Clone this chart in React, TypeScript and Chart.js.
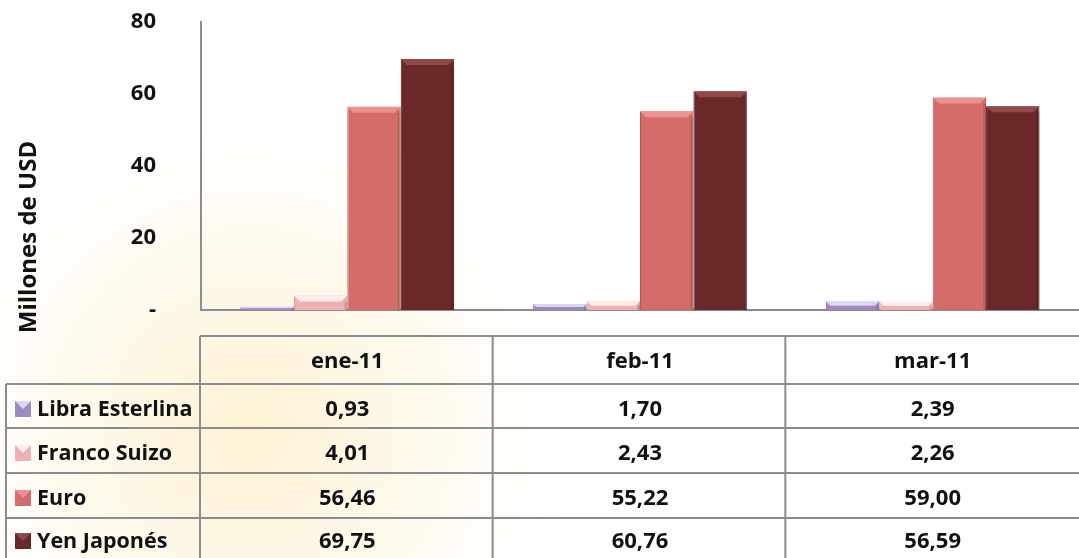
import React, { useEffect, useRef } from "react";
import { Chart, registerables } from "chart.js";

Chart.register(...registerables);

const categories = ["ene-11", "feb-11", "mar-11"];
const seriesNames = ["Libra Esterlina", "Franco Suizo", "Euro", "Yen Japonés"];
const libra = [0.93, 1.7, 2.39];
const franco = [4.01, 2.43, 2.26];
const euro = [56.46, 55.22, 59.0];
const yen = [69.75, 60.76, 56.59];
const seriesValues = [libra, franco, euro, yen];
const yTicks = [0, 20, 40, 60, 80];
const yTitle = "Millones de USD";

const fills = ["#9d8bbd", "#eeb0b0", "#d46c6a", "#6b2828"];
const edges = ["#7a6799", "#d89090", "#b85250", "#4a1818"];
const highlights = ["rgba(230,222,245,0.9)", "rgba(255,240,240,0.95)", "rgba(240,150,148,0.9)", "rgba(150,75,75,0.9)"];

const FONT = "'Open Sans', 'DejaVu Sans', sans-serif";

const fmt = (v: number) => v.toFixed(2).replace(".", ",");

const bgPlugin = {
  id: "bgPlugin",
  beforeDraw(chart: any) {
    const { ctx, width, height } = chart;
    ctx.save();
    ctx.fillStyle = "#ffffff";
    ctx.fillRect(0, 0, width, height);
    const g = ctx.createRadialGradient(250, 430, 10, 250, 430, 330);
    g.addColorStop(0, "rgba(252,226,160,0.45)");
    g.addColorStop(0.6, "rgba(252,236,190,0.25)");
    g.addColorStop(1, "rgba(255,255,255,0)");
    ctx.fillStyle = g;
    ctx.fillRect(0, 120, 700, height - 120);
    ctx.restore();
  },
};

const bevelPlugin = {
  id: "bevelPlugin",
  afterDatasetsDraw(chart: any) {
    const ctx = chart.ctx;
    chart.data.datasets.forEach((_: any, di: number) => {
      const meta = chart.getDatasetMeta(di);
      meta.data.forEach((bar: any) => {
        const left = bar.x - bar.width / 2;
        const right = bar.x + bar.width / 2;
        const top = bar.y;
        const bottom = bar.base;
        const h = bottom - top;
        const b = Math.min(6, h / 2);
        ctx.save();
        ctx.fillStyle = highlights[di];
        ctx.beginPath();
        ctx.moveTo(left, top);
        ctx.lineTo(right, top);
        ctx.lineTo(right - b, top + b);
        ctx.lineTo(left + b, top + b);
        ctx.closePath();
        ctx.fill();
        ctx.fillStyle = "rgba(0,0,0,0.12)";
        ctx.fillRect(right - 3, top + b, 3, h - b);
        ctx.restore();
      });
    });
  },
};

const tablePlugin = {
  id: "tablePlugin",
  afterDraw(chart: any) {
    const { ctx, width } = chart;
    const x = chart.scales.x;
    const n = categories.length;
    const tableLeft = 6;
    const colLeft = chart.chartArea.left - 1;
    const step = (chart.chartArea.right - chart.chartArea.left) / n;
    const rowsY = [336, 384, 428, 473, 518, 563];
    ctx.save();
    ctx.strokeStyle = "#8c8c8c";
    ctx.lineWidth = 2;
    ctx.beginPath();
    ctx.moveTo(colLeft, rowsY[0]);
    ctx.lineTo(width, rowsY[0]);
    for (let i = 1; i < rowsY.length - 1; i++) {
      ctx.moveTo(tableLeft, rowsY[i]);
      ctx.lineTo(width, rowsY[i]);
    }
    ctx.moveTo(tableLeft, rowsY[1]);
    ctx.lineTo(tableLeft, chart.height);
    for (let c = 0; c < n; c++) {
      const xx = colLeft + c * step;
      ctx.moveTo(xx, rowsY[0]);
      ctx.lineTo(xx, chart.height);
    }
    ctx.stroke();

    ctx.fillStyle = "#111";
    ctx.font = `bold 22px ${FONT}`;
    ctx.textAlign = "center";
    ctx.textBaseline = "alphabetic";
    categories.forEach((cat, i) => {
      const cx = x.getPixelForValue(i);
      ctx.fillText(cat, cx, 368);
      seriesValues.forEach((vals, s) => {
        const base = rowsY[s + 1] + 32 - (s === 3 ? 2 : 0);
        ctx.fillText(fmt(vals[i]), cx, base);
      });
    });
    ctx.textAlign = "left";
    ctx.font = `bold 21.5px ${FONT}`;
    seriesNames.forEach((name, s) => {
      const base = rowsY[s + 1] + 32 - (s === 3 ? 2 : 0);
      const mx = 15, my = base - 15, ms = 16;
      ctx.fillStyle = "#ffffff";
      ctx.fillRect(mx - 1, my - 1, ms + 2, ms + 2);
      ctx.fillStyle = fills[s];
      ctx.fillRect(mx, my, ms, ms);
      ctx.fillStyle = highlights[s];
      ctx.beginPath();
      ctx.moveTo(mx, my);
      ctx.lineTo(mx + ms, my);
      ctx.lineTo(mx + ms / 2, my + ms / 2);
      ctx.closePath();
      ctx.fill();
      ctx.fillStyle = "#111";
      ctx.fillText(name, 37, base);
    });

    ctx.translate(36, 237);
    ctx.rotate(-Math.PI / 2);
    ctx.textAlign = "center";
    ctx.textBaseline = "alphabetic";
    ctx.font = `bold 24px ${FONT}`;
    ctx.fillText(yTitle, 0, 0);
    ctx.restore();
  },
};

export default function App() {
  const ref = useRef<HTMLCanvasElement>(null);
  useEffect(() => {
    document.body.style.margin = "0";
    const canvas = ref.current!;
    const chart = new Chart(canvas, {
      type: "bar",
      data: {
        labels: categories,
        datasets: seriesNames.map((name, i) => ({
          label: name,
          data: seriesValues[i],
          backgroundColor: fills[i],
          borderColor: edges[i],
          borderWidth: 1,
          barPercentage: 1.0,
          categoryPercentage: 0.73,
        })),
      },
      options: {
        animation: false,
        responsive: false,
        maintainAspectRatio: false,
        layout: { padding: { top: 22, bottom: 248, right: 0, left: 0 } },
        plugins: {
          legend: { display: false },
          tooltip: { enabled: false },
          title: { display: false },
        },
        scales: {
          x: {
            ticks: { display: false },
            grid: { display: false, drawTicks: false },
            border: { display: true, color: "#8c8c8c", width: 2 },
          },
          y: {
            min: 0,
            max: 80,
            afterFit: (scale: any) => {
              scale.width = 201;
              scale.paddingTop = 0;
            },
            afterBuildTicks: (scale: any) => {
              scale.ticks = yTicks.map((v) => ({ value: v }));
            },
            ticks: {
              padding: 45,
              color: "#111",
              font: { family: FONT, size: 22, weight: "bold" },
              callback: (v: any) => (v === 0 ? "-" : String(v)),
            },
            grid: { display: false, drawTicks: false },
            border: { display: true, color: "#8c8c8c", width: 2 },
          },
        },
      },
      plugins: [bgPlugin, bevelPlugin, tablePlugin],
    });
    return () => chart.destroy();
  }, []);
  return (
    <div style={{ position: "fixed", left: 0, top: 0 }}>
      <canvas ref={ref} width={1079} height={558} style={{ display: "block", width: 1079, height: 558 }} />
    </div>
  );
}
